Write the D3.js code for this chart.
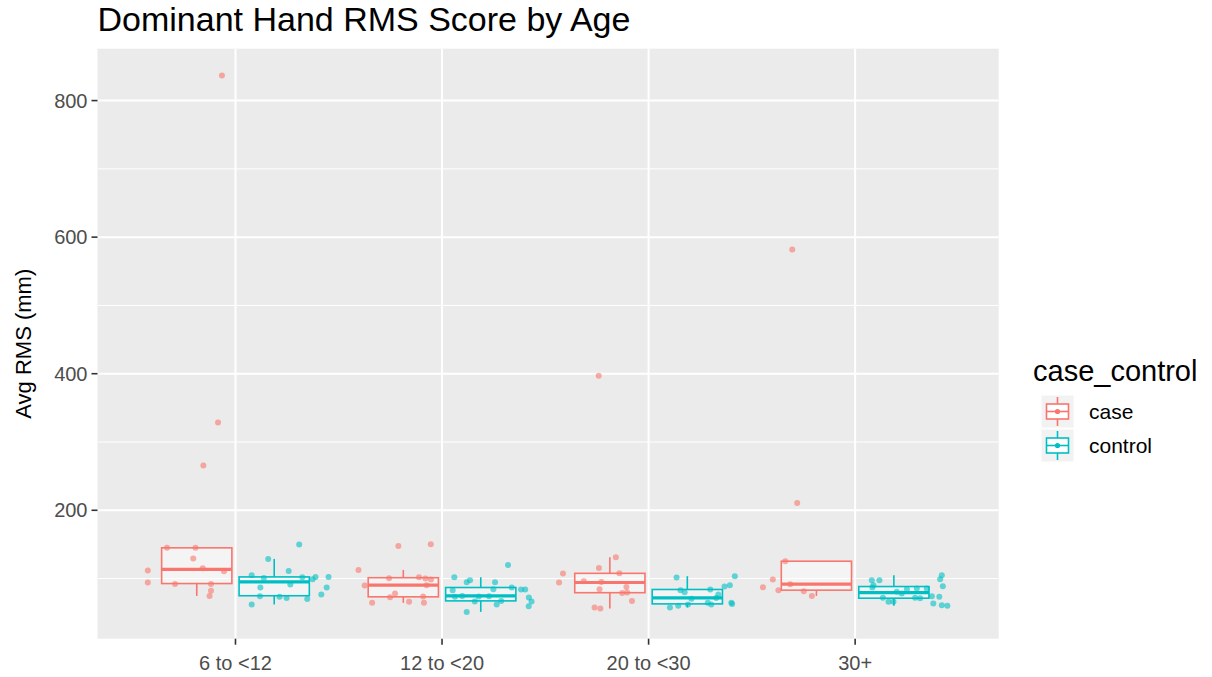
<!DOCTYPE html>
<html>
<head>
<meta charset="utf-8">
<script src="https://cdn.jsdelivr.net/npm/d3@7"></script>
<style>
  body { margin: 0; background: #fff; }
  svg text { font-family: "Liberation Sans", Arial, sans-serif; }
</style>
</head>
<body>
<div id="chart"></div>
<script>
// Age groups on the x axis
const ageGroups = ["6 to <12", "12 to <20", "20 to <30", "30+"];
const groupNames = ["case", "control"];

// Avg RMS values, one list per age group
const caseValues = [
  [145, 145, 129.4, 111.8, 94.2, 115.2, 110.8, 92.2, 92.2, 82, 74.6, 265.5, 328.4, 836.7],
  [112.7, 147.8, 150.3, 89.8, 100.5, 102, 100, 98.6, 90.3, 78.1, 72.7, 65.9, 73.8, 64.4, 64.4],
  [107.4, 94.2, 115.6, 131.3, 107.9, 96.2, 95.1, 84.4, 87.8, 79, 79.6, 67.3, 57.7, 56.2, 397],
  [125.4, 98.6, 87.4, 83, 91.8, 81.5, 74.6, 210.7, 582]
];
// horizontal jitter of each point (in category units, from the dodged box centre)
const caseJitter = [
  [-0.144, -0.006, -0.017, -0.237, -0.237, 0.029, 0.132, -0.105, 0.069, 0.069, 0.062, 0.032, 0.103, 0.122],
  [-0.217, -0.024, 0.133, -0.187, -0.069, 0.076, 0.107, 0.134, 0.113, -0.040, -0.064, 0.028, 0.096, -0.151, 0.100],
  [-0.227, -0.246, -0.053, 0.029, 0.046, -0.126, -0.041, -0.050, 0.080, 0.060, 0.084, 0.107, -0.074, -0.046, -0.054],
  [-0.151, -0.211, -0.259, -0.184, -0.127, -0.061, -0.022, -0.093, -0.117]
];

const controlValues = [
  [105, 128.8, 101, 111.2, 86.9, 91.3, 102, 99, 102.4, 102.4, 86.9, 76.7, 70.2, 74.2, 73.2, 71.7, 62.1, 149.9],
  [120, 102, 94.7, 97.6, 94.7, 84.4, 83, 73.2, 66.4, 67.3, 62.1, 51.2, 84, 84, 72.3, 66.4, 59.6, 73.8, 74.2, 74.6, 86.9],
  [101.5, 83, 80.1, 84, 76.7, 88.4, 90.3, 103.5, 64.4, 62.9, 57.7, 60, 62.1, 64.4, 62.1, 70.5, 71.7],
  [97.6, 97.6, 90.3, 86.9, 80.5, 84.4, 85.4, 85.4, 78.1, 72, 65.9, 65.9, 72, 71, 104.9, 99, 88.8, 74.2, 73.2, 63.5, 61, 60]
];
const controlJitter = [
  [-0.109, -0.029, -0.050, 0.070, -0.067, 0.078, 0.136, 0.186, 0.200, 0.263, 0.254, 0.228, 0.160, -0.069, 0.026, 0.060, -0.109, 0.121],
  [0.132, -0.128, -0.068, -0.052, 0.069, 0.061, -0.136, -0.125, -0.029, 0.099, 0.077, -0.068, 0.195, 0.215, 0.233, 0.246, 0.232, -0.010, 0.040, -0.090, 0.150],
  [-0.052, -0.033, -0.013, 0.111, 0.150, 0.180, 0.206, 0.230, 0.213, 0.217, -0.084, -0.044, 0.003, 0.099, 0.116, 0.020, 0.140],
  [-0.107, -0.070, -0.099, -0.104, 0.014, 0.063, 0.111, 0.159, 0.038, -0.053, -0.026, -0.002, 0.103, 0.127, 0.232, 0.224, 0.237, 0.184, 0.220, 0.191, 0.232, 0.259]
];

const yTicks = [200, 400, 600, 800];
const yMinorTicks = [100, 300, 500, 700];

const colors = { case: "#F8766D", control: "#00BFC4" };
const dodge = 0.1875;   // half of the dodge width
const boxWidth = 0.34;

// page layout
const W = 1212, H = 677;
const panel = { left: 97.5, top: 48.7, right: 998.7, bottom: 638.7 };

const svg = d3.select("#chart")
    .append("svg")
    .attr("width", W)
    .attr("height", H);

// Set up scales (category index on x, with ggplot-like padding)
const xScale = d3.scaleLinear()
    .domain([1 - 0.668, ageGroups.length + 0.695])
    .range([panel.left, panel.right]);

const allValues = caseValues.flat().concat(controlValues.flat());
const yMin = d3.min(allValues), yMax = d3.max(allValues);
const yPad = (yMax - yMin) * 0.05;
const yScale = d3.scaleLinear()
    .domain([yMin - yPad, yMax + yPad])
    .range([panel.bottom, panel.top]);

// Panel background
svg.append("rect")
    .attr("x", panel.left)
    .attr("y", panel.top)
    .attr("width", panel.right - panel.left)
    .attr("height", panel.bottom - panel.top)
    .attr("fill", "#EBEBEB");

// Grid lines
svg.selectAll(".minor-grid")
    .data(yMinorTicks)
    .enter()
    .append("line")
    .attr("x1", panel.left).attr("x2", panel.right)
    .attr("y1", d => yScale(d)).attr("y2", d => yScale(d))
    .attr("stroke", "#fff")
    .attr("stroke-width", 1);

svg.selectAll(".major-grid")
    .data(yTicks)
    .enter()
    .append("line")
    .attr("x1", panel.left).attr("x2", panel.right)
    .attr("y1", d => yScale(d)).attr("y2", d => yScale(d))
    .attr("stroke", "#fff")
    .attr("stroke-width", 2);

svg.selectAll(".x-grid")
    .data(ageGroups)
    .enter()
    .append("line")
    .attr("x1", (d, i) => xScale(i + 1)).attr("x2", (d, i) => xScale(i + 1))
    .attr("y1", panel.top).attr("y2", panel.bottom)
    .attr("stroke", "#fff")
    .attr("stroke-width", 2);

// Box statistics, same quantile rule as R's default
function boxStats(values) {
    const s = values.slice().sort(d3.ascending);
    const q1 = d3.quantile(s, 0.25), med = d3.quantile(s, 0.5), q3 = d3.quantile(s, 0.75);
    const iqr = q3 - q1;
    const inside = s.filter(v => v >= q1 - 1.5 * iqr && v <= q3 + 1.5 * iqr);
    return { q1: q1, med: med, q3: q3, lo: d3.min(inside), hi: d3.max(inside) };
}

const series = [
    { name: "case", values: caseValues, jitter: caseJitter, offset: -dodge },
    { name: "control", values: controlValues, jitter: controlJitter, offset: dodge }
];

const plot = svg.append("g");

series.forEach(sr => {
    const color = colors[sr.name];
    sr.values.forEach((vals, gi) => {
        const st = boxStats(vals);
        const cx = gi + 1 + sr.offset;
        const g = plot.append("g");

        // whiskers
        g.append("line")
            .attr("x1", xScale(cx)).attr("x2", xScale(cx))
            .attr("y1", yScale(st.hi)).attr("y2", yScale(st.q3))
            .attr("stroke", color).attr("stroke-width", 1.6);
        g.append("line")
            .attr("x1", xScale(cx)).attr("x2", xScale(cx))
            .attr("y1", yScale(st.q1)).attr("y2", yScale(st.lo))
            .attr("stroke", color).attr("stroke-width", 1.6);

        // box
        g.append("rect")
            .attr("x", xScale(cx - boxWidth / 2))
            .attr("y", yScale(st.q3))
            .attr("width", xScale(cx + boxWidth / 2) - xScale(cx - boxWidth / 2))
            .attr("height", yScale(st.q1) - yScale(st.q3))
            .attr("fill", "#fff")
            .attr("fill-opacity", 0.45)
            .attr("stroke", color)
            .attr("stroke-width", 1.6);

        // median
        g.append("line")
            .attr("x1", xScale(cx - boxWidth / 2)).attr("x2", xScale(cx + boxWidth / 2))
            .attr("y1", yScale(st.med)).attr("y2", yScale(st.med))
            .attr("stroke", color).attr("stroke-width", 3.2);
    });
});

// Jittered points on top
series.forEach(sr => {
    sr.values.forEach((vals, gi) => {
        plot.selectAll(null)
            .data(vals)
            .enter()
            .append("circle")
            .attr("cx", (d, i) => xScale(gi + 1 + sr.offset + sr.jitter[gi][i]))
            .attr("cy", d => yScale(d))
            .attr("r", 3)
            .attr("fill", colors[sr.name])
            .attr("fill-opacity", 0.6);
    });
});

// Y axis ticks and labels
const yAxis = svg.append("g");
yTicks.forEach(t => {
    yAxis.append("line")
        .attr("x1", panel.left - 6).attr("x2", panel.left)
        .attr("y1", yScale(t)).attr("y2", yScale(t))
        .attr("stroke", "#333").attr("stroke-width", 1.6);
    yAxis.append("text")
        .attr("x", panel.left - 10)
        .attr("y", yScale(t))
        .attr("dy", "0.36em")
        .attr("text-anchor", "end")
        .attr("fill", "#4D4D4D")
        .style("font-size", "20px")
        .text(t);
});

// X axis ticks and labels
const xAxis = svg.append("g");
ageGroups.forEach((lab, i) => {
    xAxis.append("line")
        .attr("x1", xScale(i + 1)).attr("x2", xScale(i + 1))
        .attr("y1", panel.bottom).attr("y2", panel.bottom + 6)
        .attr("stroke", "#333").attr("stroke-width", 1.6);
    xAxis.append("text")
        .attr("x", xScale(i + 1))
        .attr("y", panel.bottom + 31)
        .attr("text-anchor", "middle")
        .attr("fill", "#4D4D4D")
        .style("font-size", "20px")
        .text(lab);
});

// Axis title and plot title
svg.append("text")
    .attr("transform", "translate(31," + ((panel.top + panel.bottom) / 2) + ") rotate(-90)")
    .attr("text-anchor", "middle")
    .attr("fill", "#000")
    .style("font-size", "22px")
    .text("Avg RMS (mm)");

svg.append("text")
    .attr("x", panel.left)
    .attr("y", 31)
    .attr("fill", "#000")
    .style("font-size", "34px")
    .text("Dominant Hand RMS Score by Age");

// Legend
const legend = svg.append("g");
legend.append("text")
    .attr("x", 1033)
    .attr("y", 381)
    .attr("fill", "#000")
    .style("font-size", "29px")
    .text("case_control");

groupNames.forEach((name, i) => {
    const ky = 395 + i * 34;
    const color = colors[name];
    legend.append("rect")
        .attr("x", 1041).attr("y", ky)
        .attr("width", 33).attr("height", 33)
        .attr("fill", "#F2F2F2")
        .attr("stroke", "#fff");
    legend.append("line")
        .attr("x1", 1057.5).attr("x2", 1057.5)
        .attr("y1", ky + 2).attr("y2", ky + 31)
        .attr("stroke", color).attr("stroke-width", 1.6);
    legend.append("rect")
        .attr("x", 1046.5).attr("y", ky + 9)
        .attr("width", 22).attr("height", 15)
        .attr("fill", "#fff")
        .attr("stroke", color)
        .attr("stroke-width", 1.6);
    legend.append("line")
        .attr("x1", 1046.5).attr("x2", 1068.5)
        .attr("y1", ky + 16.5).attr("y2", ky + 16.5)
        .attr("stroke", color).attr("stroke-width", 1.6);
    legend.append("circle")
        .attr("cx", 1057.5).attr("cy", ky + 16.5)
        .attr("r", 2.6)
        .attr("fill", color);
    legend.append("text")
        .attr("x", 1089)
        .attr("y", ky + 16.5)
        .attr("dy", "0.36em")
        .attr("fill", "#000")
        .style("font-size", "21px")
        .text(name);
});
</script>
</body>
</html>
